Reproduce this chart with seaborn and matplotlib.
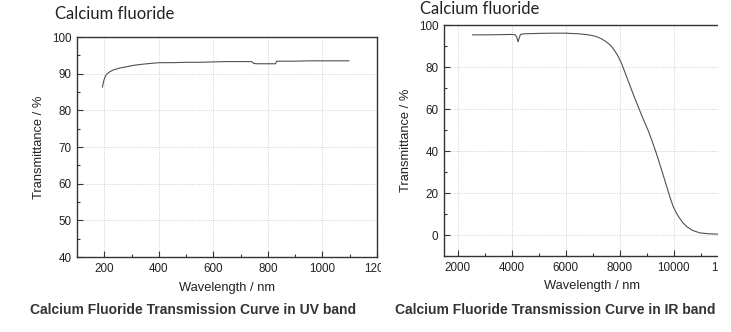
import matplotlib
matplotlib.use("Agg")
import matplotlib.pyplot as plt
from matplotlib.patches import Rectangle
from matplotlib.ticker import MultipleLocator
import seaborn as sns
import pandas as pd

# ---------------- data ----------------
uv_wavelength = [193, 196, 199, 204, 209, 220, 233, 255, 282, 310, 343, 370, 402, 450,
                 500, 550, 600, 650, 700, 740, 748, 760, 800, 828, 832, 900, 950, 1000,
                 1050, 1098]
uv_transmittance = [86.3, 87.3, 88.3, 89.3, 89.9, 90.5, 91.0, 91.5, 91.9, 92.3, 92.6, 92.8,
                    93.0, 93.0, 93.1, 93.1, 93.2, 93.3, 93.3, 93.3, 92.8, 92.7, 92.7, 92.7,
                    93.4, 93.4, 93.5, 93.5, 93.5, 93.5]

ir_wavelength = [2550, 3000, 3500, 4000, 4150, 4200, 4240, 4280, 4330, 4450, 5000, 5500,
                 6000, 6500, 6800, 7030, 7200, 7350, 7500, 7650, 7750, 7850, 7950, 8080,
                 8250, 8450, 8640, 8820, 9070, 9200, 9380, 9560, 9750, 9870, 9990, 10100,
                 10200, 10350, 10490, 10700, 10980, 11300, 11660]
ir_transmittance = [95.3, 95.3, 95.4, 95.5, 95.3, 94.0, 92.0, 93.5, 95.5, 95.8, 96.0, 96.1,
                    96.1, 95.8, 95.4, 94.9, 94.2, 93.3, 92.1, 90.5, 89.0, 87.2, 85.0, 81.6,
                    75.8, 69.0, 62.8, 57.0, 49.5, 45.0, 38.3, 31.0, 23.0, 18.0, 13.5, 10.6,
                    8.5, 5.8, 4.0, 2.2, 1.0, 0.6, 0.4]

uv_xticks = [200, 400, 600, 800, 1000, 1200]
uv_yticks = [40, 50, 60, 70, 80, 90, 100]
ir_xticks = [2000, 4000, 6000, 8000, 10000, 12000]
ir_yticks = [0, 20, 40, 60, 80, 100]

titles = ["Calcium fluoride", "Calcium fluoride"]
captions = ["Calcium Fluoride Transmission Curve in UV band",
            "Calcium Fluoride Transmission Curve in IR band"]
xlabel = "Wavelength / nm"
ylabel = "Transmittance / %"

uv_df = pd.DataFrame({"wl": uv_wavelength, "t": uv_transmittance})
ir_df = pd.DataFrame({"wl": ir_wavelength, "t": ir_transmittance})

# ---------------- style ----------------
sns.set_style("ticks")
plt.rcParams["font.family"] = ["Liberation Sans", "DejaVu Sans"]

W, H = 731, 332
fig = plt.figure(figsize=(W / 100, H / 100), dpi=100)

def px_axes(x0, x1, ytop, ybot):
    return fig.add_axes([x0 / W, (H - ybot) / H, (x1 - x0) / W, (ybot - ytop) / H])

ax1 = px_axes(77, 377, 37, 257)
ax2 = px_axes(444, 741, 25, 256)

line_color = "#505050"
spine_color = "#333333"

def style(ax, xmaj, xmin, ymaj, ymin):
    ax.xaxis.set_major_locator(MultipleLocator(xmaj))
    ax.xaxis.set_minor_locator(MultipleLocator(xmin))
    ax.yaxis.set_major_locator(MultipleLocator(ymaj))
    ax.yaxis.set_minor_locator(MultipleLocator(ymin))
    ax.tick_params(which="both", direction="in", color=spine_color, width=0.8,
                   labelsize=8.4, labelcolor="#222222", pad=4)
    ax.tick_params(which="major", length=4)
    ax.tick_params(which="minor", length=2.5)
    for s in ax.spines.values():
        s.set_color(spine_color)
        s.set_linewidth(1.0)
    ax.grid(True, which="major", linestyle=(0, (1, 1.5)), color="#cccccc", linewidth=0.7)
    ax.set_axisbelow(True)
    ax.set_xlabel(xlabel, fontsize=9.3, color="#222222", labelpad=5)
    ax.set_ylabel(ylabel, fontsize=9.3, color="#222222", labelpad=5)

sns.lineplot(data=uv_df, x="wl", y="t", ax=ax1, color=line_color, linewidth=0.8)
ax1.set_xlim(100, 1200)
ax1.set_ylim(40, 100)
style(ax1, 200, 100, 10, 5)
ax1.set_xticks(uv_xticks)
ax1.set_yticks(uv_yticks)

sns.lineplot(data=ir_df, x="wl", y="t", ax=ax2, color=line_color, linewidth=0.8)
ax2.set_xlim(1500, 12500)
ax2.set_ylim(-10, 100)
style(ax2, 2000, 1000, 20, 10)
ax2.set_xticks(ir_xticks)
ax2.set_yticks(ir_yticks)

# titles
fig.text(55 / W, 1 - 14 / H, titles[0], fontsize=12, family=["Lato", "DejaVu Sans"],
         color="#222222", ha="left", va="center")
fig.text(420 / W, 1 - 9 / H, titles[1], fontsize=12, family=["Lato", "DejaVu Sans"],
         color="#222222", ha="left", va="center")

# captions
fig.text(193 / W, 1 - 310 / H, captions[0], fontsize=10, fontweight="bold",
         color="#333333", ha="center", va="center")
fig.text(555 / W, 1 - 310 / H, captions[1], fontsize=10, fontweight="bold",
         color="#333333", ha="center", va="center")

# the source images are cropped: left panel at x=380, right panel at x=718
fig.add_artist(Rectangle((381 / W, 1 - 280 / H), 12 / W, 22 / H, transform=fig.transFigure,
                         facecolor="white", edgecolor="none", zorder=100))
fig.add_artist(Rectangle((718 / W, 0), 1, 1, transform=fig.transFigure,
                         facecolor="white", edgecolor="none", zorder=100))

fig.savefig("out.png", dpi=100)
